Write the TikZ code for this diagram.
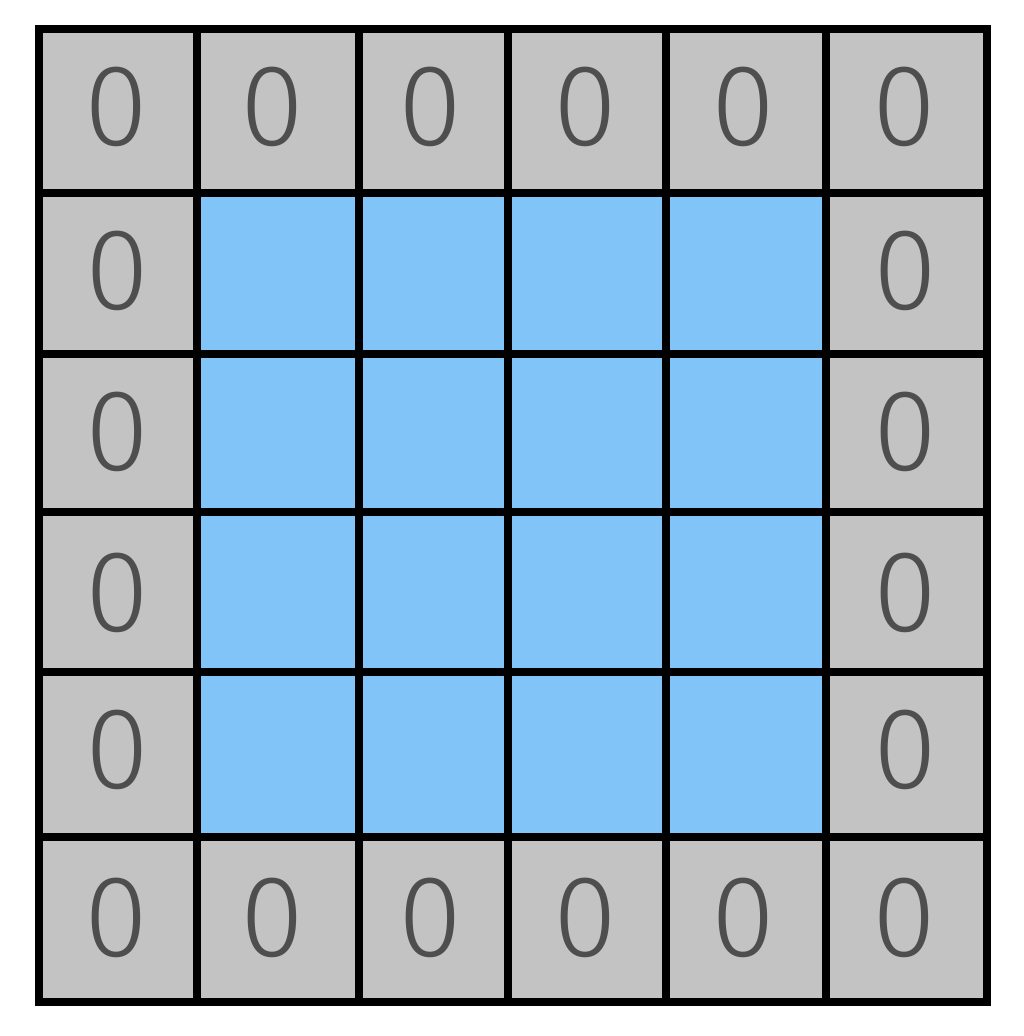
\documentclass[tikz,border=0pt]{standalone}
\usepackage{fontspec}
\setmainfont{Liberation Sans}
\newfontfamily\zerofont{Fira Sans Light}
\definecolor{padgray}{HTML}{C3C3C3}
\definecolor{cellblue}{HTML}{80C4F8}
\definecolor{zerogray}{HTML}{4E4E4E}
\tikzset{
  gridline/.style={line width=8.5pt, black, line cap=rect},
  zero/.style={font=\zerofont\fontsize{116}{116}\selectfont, text=zerogray, inner sep=0pt, anchor=center}
}
\begin{document}
\begin{tikzpicture}[x=1pt,y=-1pt]
\useasboundingbox (0,0) rectangle (1024,1036);
\fill[white] (0,0) rectangle (1024,1036);
% padding ring and inner block
\fill[padgray] (39,29) rectangle (987,1002);
\fill[cellblue] (197,193) rectangle (826,837);
% zeros: top and bottom rows
\foreach \cx [count=\c] in {116,272,430,585,743,904} {
  \node[zero] (zt-\c) at (\cx,107) {0};
  \node[zero] (zb-\c) at (\cx,918) {0};
}
% zeros: left and right columns
\foreach \cy [count=\r] in {271,432,593,750} {
  \node[zero] (zl-\r) at (117,\cy) {0};
  \node[zero] (zr-\r) at (905,\cy) {0};
}
% grid lines
\foreach \gx in {39,197,359,508,666,826,987}
  \draw[gridline] (\gx,29) -- (\gx,1002);
\foreach \gy in {29,193,354,512,672,837,1002}
  \draw[gridline] (39,\gy) -- (987,\gy);
\end{tikzpicture}
\end{document}
